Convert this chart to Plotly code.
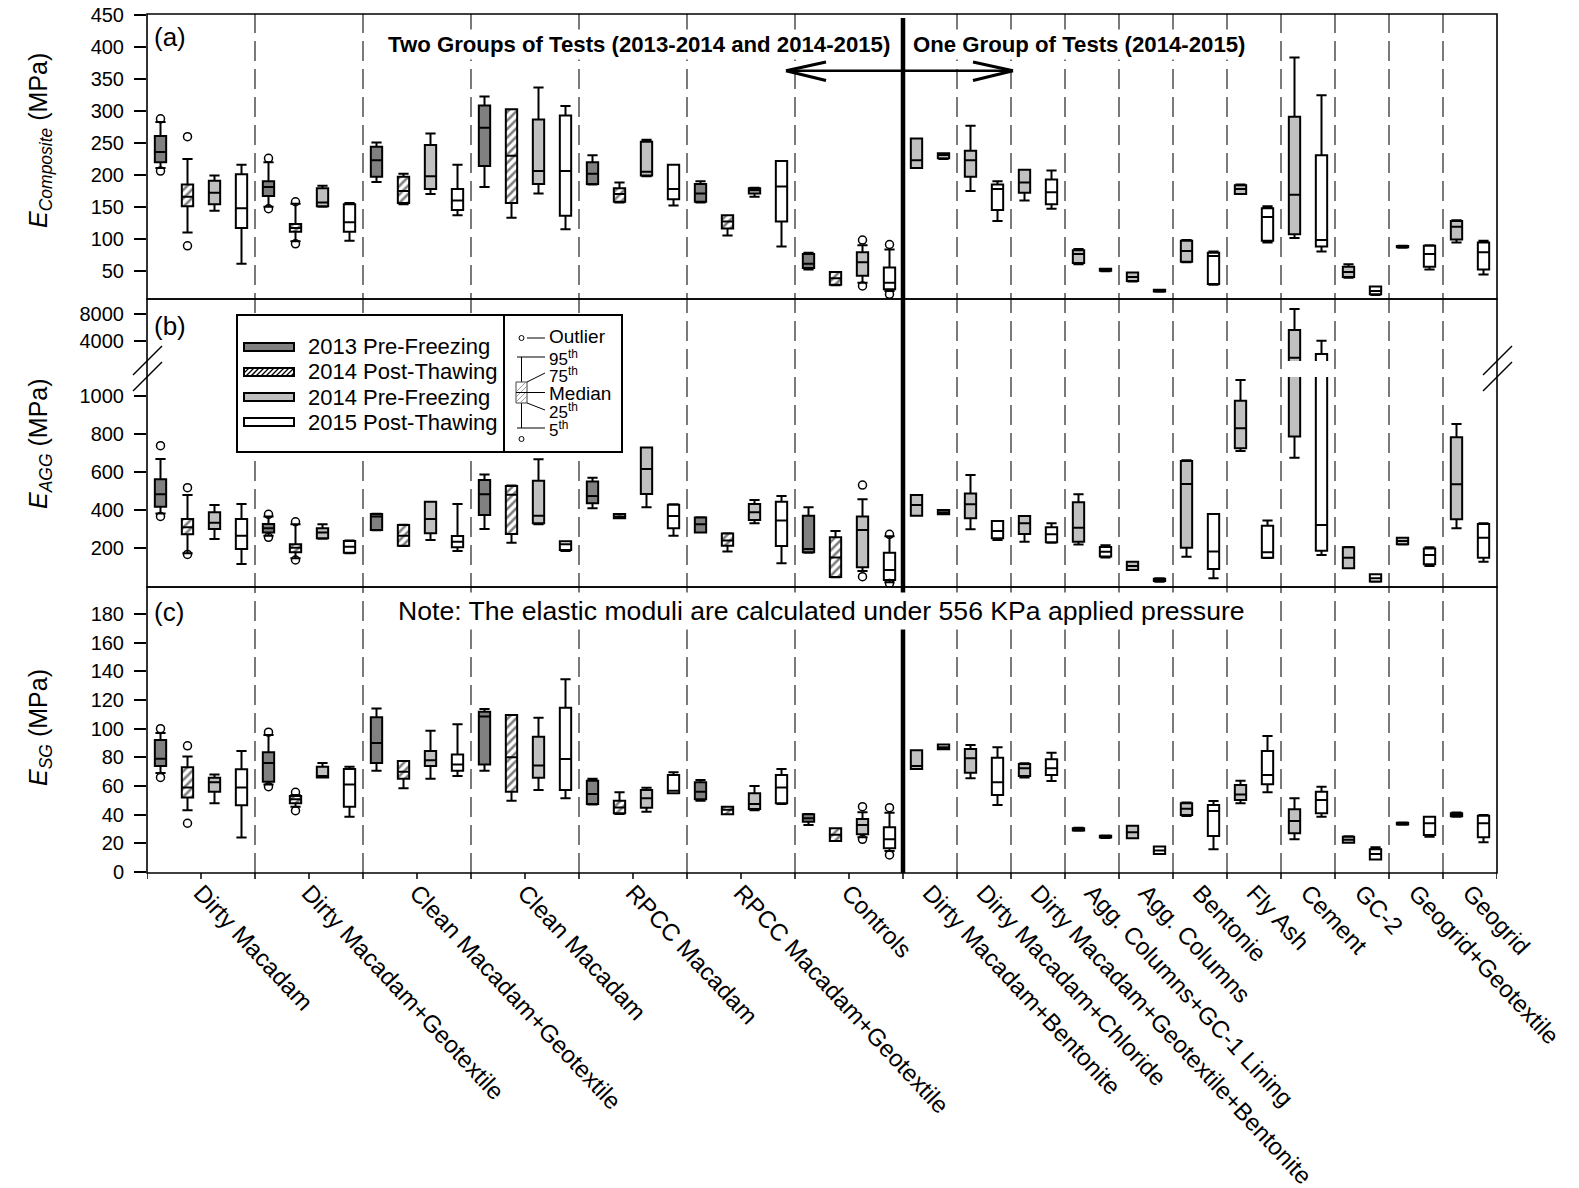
import plotly.graph_objects as go

# ---------------- data ----------------
GROUPS = ["Dirty Macadam", "Dirty Macadam+Geotextile", "Clean Macadam+Geotextile", "Clean Macadam",
          "RPCC Macadam", "RPCC Macadam+Geotextile", "Controls",
          "Dirty Macadam+Bentonite", "Dirty Macadam+Chloride", "Dirty Macadam+Geotextile+Bentonite",
          "Agg. Columns+GC-1 Lining", "Agg. Columns", "Bentonie", "Fly Ash", "Cement", "GC-2",
          "Geogrid+Geotextile", "Geogrid"]
SERIES = ["2013 Pre-Freezing", "2014 Post-Thawing", "2014 Pre-Freezing", "2015 Post-Thawing"]

# each tuple: (5th, 25th, median, 75th, 95th)
A_PF2013 = [(211, 220, 236, 261, 283), (150, 167, 181, 190, 220), (189, 197, 223, 244, 251),
            (181, 214, 274, 309, 323), (185, 186, 202, 220, 231), (157, 158, 171, 186, 190),
            (52, 54, 61, 76, 78)]
A_PT2014 = [(110, 151, 166, 185, 225), (96, 111, 117, 123, 155), (154, 156, 175, 197, 202),
            (133, 156, 230, 303, 303), (157, 158, 170, 179, 188), (105, 116, 127, 137, 137),
            (27, 28, 38, 48, 48)]
A_PF2014 = [(144, 154, 172, 191, 199), (150, 151, 157, 179, 183), (170, 178, 198, 247, 265),
            (171, 186, 206, 287, 337), (198, 199, 205, 252, 255), (166, 171, 176, 179, 180),
            (31, 42, 63, 79, 90), (211, 211, 223, 257, 257), (175, 197, 223, 238, 277),
            (160, 172, 188, 208, 208), (60, 62, 76, 82, 84), (33, 34, 40, 47, 47),
            (63, 64, 81, 97, 98), (170, 170, 178, 184, 185), (101, 107, 169, 291, 384),
            (39, 40, 48, 56, 60), (86, 86.5, 87.5, 88.5, 89), (94, 99, 119, 128, 129)]
A_PT2015 = [(61, 117, 148, 201, 216), (97, 111, 126, 154, 156), (137, 145, 160, 178, 216),
            (115, 136, 206, 293, 308), (152, 162, 178, 216, 216), (88, 127, 182, 222, 222),
            (18, 21, 31, 55, 83), (225, 226, 231, 234, 234), (128, 145, 178, 185, 190),
            (147, 154, 173, 193, 207), (49, 50, 51, 53, 53), (17, 17.5, 18.5, 20, 20),
            (28, 29, 73, 78, 80), (94, 97, 134, 148, 151), (80, 88, 98, 231, 325),
            (12, 13, 18, 25, 25), (52, 56, 76, 89, 90), (44, 52, 79, 94, 97)]

B_PF2013 = [(382, 417, 482, 561, 668), (265, 281, 304, 326, 365), (294, 295, 365, 379, 380),
            (300, 374, 482, 557, 587), (409, 435, 473, 549, 570), (281, 282, 325, 361, 362),
            (175, 178, 195, 370, 414)]
B_PT2014 = [(172, 272, 309, 353, 479), (146, 178, 202, 220, 325), (211, 212, 265, 321, 322),
            (228, 274, 480, 526, 528), (356, 356, 365, 379, 379), (181, 212, 240, 276, 277),
            (46, 47, 150, 256, 289)]
B_PF2014 = [(247, 300, 333, 388, 426), (249, 251, 281, 304, 325), (242, 277, 353, 443, 443),
            (325, 330, 370, 554, 666), (414, 484, 615, 729, 729), (330, 347, 388, 431, 452),
            (79, 99, 295, 365, 456), (370, 370, 426, 479, 479), (298, 356, 430, 487, 584),
            (233, 274, 330, 368, 368), (219, 233, 307, 440, 482), (84, 85, 105, 128, 128),
            (154, 202, 536, 657, 662), (710, 724, 829, 974, 1083), (675, 786, 1603, 5676, 8765),
            (93, 93, 149, 204, 205), (219, 220, 237, 254, 254), (304, 351, 535, 782, 852)]
B_PT2015 = [(116, 195, 265, 353, 431), (172, 175, 207, 237, 240), (184, 204, 233, 263, 431),
            (184, 190, 220, 235, 236), (265, 304, 368, 428, 430), (120, 210, 344, 443, 473),
            (20, 32, 85, 175, 262), (377, 377, 388, 400, 400), (242, 251, 289, 342, 342),
            (228, 230, 272, 309, 330), (150, 155, 180, 205, 215), (23, 26, 32, 38, 41),
            (41, 90, 181, 379, 379), (147, 149, 178, 317, 344), (163, 186, 321, 2147, 4100),
            (23, 24, 41, 62, 62), (106, 114, 163, 198, 204), (128, 149, 254, 326, 330)]

C_PF2013 = [(69, 74, 79, 92, 97), (61, 63, 76, 83.5, 95.6), (70.7, 76, 90, 108, 114),
            (70.7, 75, 108.4, 111.8, 113.7), (47, 47.4, 54.4, 63.7, 65), (49.7, 50.7, 56, 62.6, 64.2),
            (32.8, 35.1, 37.5, 40.3, 40.5)]
C_PT2014 = [(43, 52, 59, 73, 80.5), (45.6, 48, 50.7, 53, 53.7), (58.4, 65, 70, 77.4, 77.4),
            (49.7, 56, 80, 109.5, 109.5), (40.5, 41, 45, 49.7, 55.6), (40.3, 40.3, 43.5, 45.6, 45.6),
            (21.6, 21.6, 26, 30.5, 30.5)]
C_PF2014 = [(48, 56, 62.6, 65.8, 68), (66, 66, 67, 73.5, 76), (65, 74, 78, 84.4, 98.6),
            (57.2, 65.8, 74.2, 94.4, 107.6), (42, 44.9, 51.4, 57.2, 58.8), (43, 44, 47.4, 55, 60),
            (24.2, 26.3, 32.8, 37, 41.6), (71.9, 71.9, 74, 85, 85), (65.4, 69.3, 79.3, 85.8, 88.6),
            (66, 67, 72.3, 75.3, 75.8), (28.8, 29, 29.8, 30.6, 30.8), (23.5, 23.5, 27.7, 32.3, 32.3),
            (39, 39.8, 44.2, 47.9, 48.5), (47.9, 50.2, 54.1, 60.7, 63.7), (22.8, 27, 35.6, 43.7, 51.4),
            (20.4, 20.4, 22.5, 24.6, 25), (33, 33.2, 33.8, 34.3, 34.5), (38.5, 38.8, 40, 41, 41.5)]
C_PT2015 = [(24, 46.5, 59, 71.6, 84.4), (38.6, 45.6, 61, 71.8, 73.5), (67, 70.7, 75, 82, 103),
            (51.4, 57.2, 78.8, 114.6, 134.4), (54.9, 54.9, 56.7, 67.7, 69.5), (47.5, 48, 59, 67.7, 71.9),
            (14.6, 16.5, 22.8, 31.2, 41.4), (85.6, 85.6, 87, 89, 89), (46.7, 53.7, 62.6, 79.7, 87),
            (63.5, 67.7, 72.3, 78.6, 83.2), (23.8, 24, 24.6, 25.2, 25.5), (12.6, 12.6, 15, 17.7, 17.7),
            (15.8, 25.1, 42.5, 46.7, 49.5), (55.6, 61.2, 67.7, 84.4, 94.9), (38.6, 41, 50.2, 56, 59.4),
            (8.8, 8.8, 12.6, 15.8, 17.2), (24.6, 25.8, 34, 38.6, 38.6), (20.7, 24.2, 34, 39.3, 39.8)]

# outliers: (series index, group index, value)
A_OUTLIERS = [(0, 0, 288), (0, 0, 206), (0, 1, 226), (0, 1, 147), (1, 0, 260), (1, 0, 89),
              (1, 1, 158), (1, 1, 92), (2, 6, 98), (2, 6, 26), (3, 6, 91), (3, 6, 13)]
B_OUTLIERS = [(0, 0, 738), (0, 0, 366), (0, 1, 377), (0, 1, 256), (1, 0, 517), (1, 0, 166),
              (1, 1, 338), (1, 1, 137), (2, 6, 531), (2, 6, 49), (3, 6, 272), (3, 6, 14)]
C_OUTLIERS = [(0, 0, 100), (0, 0, 66), (0, 1, 97.5), (0, 1, 59.5), (1, 0, 88), (1, 0, 34),
              (1, 1, 55.6), (1, 1, 42.8), (2, 6, 45.6), (2, 6, 22.8), (3, 6, 44.9), (3, 6, 11.9)]

A_TICKS = [50, 100, 150, 200, 250, 300, 350, 400, 450]
B_TOP_TICKS = [4000, 8000]
B_BOT_TICKS = [200, 400, 600, 800, 1000]
C_TICKS = [0, 20, 40, 60, 80, 100, 120, 140, 160, 180]
B_BREAK = 1099  # top of the lower part of the broken axis in panel (b)

# ---------------- geometry helpers ----------------
W, H = 1579, 1188
L, R, T, B = 147, 1497, 14, 873
FONT = "Arial, Liberation Sans, sans-serif"


def px(x):
    return (x - L) / (R - L)


def py(y):
    return (B - y) / (B - T)


def slot(g, s):
    if g < 7:
        return 4 * g + s + 0.5
    return 28 + 2 * (g - 7) + (0 if s == 2 else 1) + 0.5


fig = go.Figure()
BW = 0.42
FILLS = ["#808080", "rgba(0,0,0,0)", "#c0c0c0", "white"]


def add_series(stats, s, yax, only=None):
    idx = [g for g in range(len(stats)) if only is None or only(stats[g])]
    xs = [slot(g, s) for g in idx]
    lf = [stats[g][0] for g in idx]
    q1 = [stats[g][1] for g in idx]
    md = [stats[g][2] for g in idx]
    q3 = [stats[g][3] for g in idx]
    uf = [stats[g][4] for g in idx]
    if s == 1:
        fig.add_trace(go.Bar(x=xs, y=[b - a for a, b in zip(q1, q3)], base=q1, width=BW,
                             xaxis="x", yaxis=yax, showlegend=False, hoverinfo="skip",
                             marker=dict(color="white", line=dict(width=0),
                                         pattern=dict(shape="/", fgcolor="black", bgcolor="white",
                                                      size=6, solidity=0.42))))
    fig.add_trace(go.Box(x=xs, q1=q1, median=md, q3=q3, lowerfence=lf, upperfence=uf,
                         orientation="v", width=BW, fillcolor=FILLS[s], whiskerwidth=0.9,
                         line=dict(color="black", width=2), xaxis="x", yaxis=yax,
                         showlegend=False, hoverinfo="skip", boxpoints=False))


def add_outliers(outs, yax):
    fig.add_trace(go.Scatter(x=[slot(g, s) for s, g, v in outs], y=[v for s, g, v in outs],
                             mode="markers", xaxis="x", yaxis=yax, showlegend=False,
                             hoverinfo="skip",
                             marker=dict(symbol="circle-open", size=8, color="black",
                                         line=dict(width=1.5))))


for yax, sers, outs in [("y", [A_PF2013, A_PT2014, A_PF2014, A_PT2015], A_OUTLIERS),
                        ("y3", [B_PF2013, B_PT2014, B_PF2014, B_PT2015], B_OUTLIERS),
                        ("y4", [C_PF2013, C_PT2014, C_PF2014, C_PT2015], C_OUTLIERS)]:
    for s, st in enumerate(sers):
        add_series(st, s, yax)
    add_outliers(outs, yax)
# upper part of the broken axis in panel (b): only boxes that reach above the break
add_series(B_PF2014, 2, "y2", only=lambda t: t[3] > B_BREAK)
add_series(B_PT2015, 3, "y2", only=lambda t: t[3] > B_BREAK)

# ---------------- axes ----------------
tick_centers = [4 * g + 2 for g in range(7)] + [29 + 2 * k for k in range(11)]


def yax(domain, rng, ticks):
    return dict(domain=domain, range=rng, anchor="x", tickmode="array", tickvals=ticks,
                ticktext=[str(t) for t in ticks], ticks="outside", ticklen=12, tickwidth=1.5,
                tickcolor="black", ticklabelstandoff=6, showgrid=False, zeroline=False,
                showline=False, tickfont=dict(size=20, family=FONT, color="black"),
                automargin=False, fixedrange=True)


fig.update_layout(
    width=W, height=H, margin=dict(l=L, r=W - R, t=T, b=H - B, pad=0),
    plot_bgcolor="white", paper_bgcolor="white", barmode="overlay", boxmode="overlay",
    showlegend=False, font=dict(family=FONT, color="black"),
    xaxis=dict(domain=[0, 1], range=[0, 50], anchor="y4", tickmode="array",
               tickvals=tick_centers, ticktext=GROUPS, tickangle=47, ticks="",
               tickfont=dict(size=24, family=FONT, color="black"), showgrid=False,
               zeroline=False, showline=False, automargin=False, fixedrange=True),
    yaxis=yax([py(299), 1], [5.6, 452.2], A_TICKS),
    yaxis2=yax([py(361), py(299)], [1118, 10235], B_TOP_TICKS),
    yaxis3=yax([py(587), py(377)], [-5, B_BREAK], B_BOT_TICKS),
    yaxis4=yax([0, py(587)], [-0.7, 198.8], C_TICKS),
)

shapes = []
# dashed group separators
for v in [4, 8, 12, 16, 20, 24] + list(range(30, 50, 2)):
    shapes.append(dict(type="line", xref="x", yref="paper", x0=v, x1=v, y0=0, y1=1,
                       line=dict(color="#333333", width=1.3, dash="20px,8px"), layer="below"))
# x tick marks
for v in range(0, 51, 2):
    shapes.append(dict(type="line", xref="x", yref="paper", x0=v, x1=v, y0=0, y1=-6 / (B - T),
                       line=dict(color="black", width=1.5)))
# panel frames
for y0, y1 in [(299, T), (587, 299), (B, 587)]:
    shapes.append(dict(type="rect", xref="paper", yref="paper", x0=0, x1=1, y0=py(y0), y1=py(y1),
                       line=dict(color="black", width=1.6), layer="above"))
# thick divider
shapes.append(dict(type="line", xref="x", yref="paper", x0=28, x1=28, y0=0, y1=py(18),
                   line=dict(color="black", width=4.5), layer="above"))


def pline(x0, y0, x1, y1, w=1.0, color="black"):
    shapes.append(dict(type="line", xref="paper", yref="paper", x0=px(x0), y0=py(y0),
                       x1=px(x1), y1=py(y1), line=dict(color=color, width=w), layer="above"))


# double arrow
pline(786, 70.7, 1013, 70.7, 2.5)
pline(786, 70.7, 826, 62, 3)
pline(786, 70.7, 826, 80.5, 3)
pline(1013, 70.7, 973, 62, 3)
pline(1013, 70.7, 973, 80.5, 3)
# axis break marks
for xo in [L, R]:
    pline(xo - 14, 375, xo + 15, 346, 1.5)
    pline(xo - 14, 391, xo + 15, 362, 1.5)


def prect(x0, y0, x1, y1, fill, lw=2, color="black"):
    shapes.append(dict(type="rect", xref="paper", yref="paper", x0=px(x0), y0=py(y1),
                       x1=px(x1), y1=py(y0), fillcolor=fill, line=dict(color=color, width=lw),
                       layer="above"))


# legend box
prect(237, 315, 622, 452, "white", 2)
pline(504, 315, 504, 452, 2)
sw_fill = ["#808080", "white", "#c0c0c0", "white"]
for i, yc in enumerate([347, 372, 397, 422]):
    prect(244, yc - 4, 294, yc + 4, sw_fill[i], 2)
    if i == 1:
        for x0 in range(236, 295, 5):
            t0, t1 = max(0, 244 - x0), min(8, 294 - x0)
            if t1 > t0:
                pline(x0 + t0, yc + 4 - t0, x0 + t1, yc + 4 - t1, 1.3)
# box-plot key
pline(521.5, 357, 521.5, 382, 1)
pline(521.5, 403, 521.5, 428, 1)
pline(517, 357, 526, 357, 1)
pline(517, 428, 526, 428, 1)
prect(516, 382, 527, 403, "white", 1, "#444444")
for x0 in range(505, 528, 5):
    t0, t1 = max(0, 516 - x0), min(21, 527 - x0)
    if t1 > t0:
        pline(x0 + t0, 403 - t0, x0 + t1, 403 - t1, 0.8, "#888888")
pline(516, 392.5, 527, 392.5, 1)
for yc in [338, 439]:
    shapes.append(dict(type="circle", xref="paper", yref="paper", x0=px(519), x1=px(524),
                       y0=py(yc + 2.5), y1=py(yc - 2.5), line=dict(color="black", width=1),
                       layer="above"))
pline(527, 338, 545, 338, 1)
pline(526, 357, 545, 357, 1)
pline(527, 382, 545, 373, 1)
pline(527, 392.5, 545, 392.5, 1)
pline(527, 403, 545, 410, 1)
pline(526, 428, 545, 428, 1)

fig.update_layout(shapes=shapes)

# ---------------- annotations ----------------
ann = []


def text(x, y, s, size, xanchor="left", bg=None, angle=0, pad=1):
    d = dict(xref="paper", yref="paper", x=px(x), y=py(y), text=s, showarrow=False,
             xanchor=xanchor, yanchor="middle", textangle=angle,
             font=dict(size=size, family=FONT, color="black"), borderpad=pad)
    if bg:
        d["bgcolor"] = bg
    ann.append(d)


text(893, 44, "<b>Two Groups of Tests (2013-2014 and 2014-2015)</b>", 22.2, "right", "white", pad=2)
text(910, 44, "<b>One Group of Tests (2014-2015)</b>", 22.2, "left", "white", pad=2)
text(394, 611, "Note: The elastic moduli are calculated under 556 KPa applied pressure", 26.6,
     "left", "white", pad=3)
text(152, 37, "(a)", 26)
text(152, 326, "(b)", 26)
text(152, 612, "(c)", 26)
for i, yc in enumerate([347, 372, 397, 422]):
    text(306, yc, SERIES[i], 22)
text(547, 336, "Outlier", 19)
text(547, 358, "95<sup>th</sup>", 17)
text(547, 375, "75<sup>th</sup>", 17)
text(547, 393, "Median", 19)
text(547, 411, "25<sup>th</sup>", 17)
text(547, 429, "5<sup>th</sup>", 17)
text(40, 140, "<i>E</i><sub><i>Composite</i></sub> (MPa)", 25, "center", angle=-90)
text(40, 443, "<i>E</i><sub><i>AGG</i></sub> (MPa)", 25, "center", angle=-90)
text(40, 727, "<i>E</i><sub><i>SG</i></sub> (MPa)", 25, "center", angle=-90)
fig.update_layout(annotations=ann)

fig.write_html("out.html", config={"displayModeBar": False})
with open("out.html", "r", encoding="utf-8") as f:
    html = f.read()
html = html.replace("<head>", "<head><style>body{margin:0;padding:0;overflow:hidden}</style>", 1)
with open("out.html", "w", encoding="utf-8") as f:
    f.write(html)
